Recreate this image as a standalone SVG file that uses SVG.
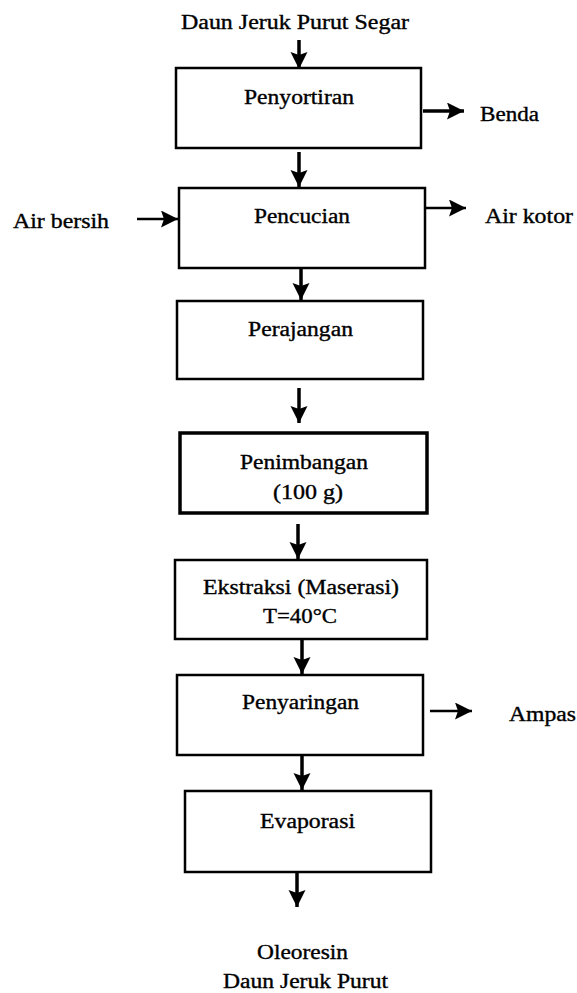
<svg xmlns="http://www.w3.org/2000/svg" width="577" height="993" viewBox="0 0 577 993">
<style>
  .box { fill: #fff; stroke: #000; stroke-width: 2.5; }
  .thick { stroke-width: 3.5; }
  .t { font-family: "Liberation Serif", "Times New Roman", serif; font-size: 20px; fill: #000; stroke: #000; stroke-width: 0.35; }
  .c { stroke: #000; stroke-width: 3.5; fill: none; marker-end: url(#ah); }
  .thin { stroke-width: 2.5; }
</style>
<defs>
  <marker id="ah" markerUnits="userSpaceOnUse" markerWidth="18" markerHeight="18" refX="17" refY="8.5" orient="auto">
    <path d="M0,0 L17,8.5 L0,17 L3,8.5 Z" fill="#000"/>
  </marker>
</defs>
<rect width="577" height="993" fill="#fff"/>
<g id="connectors">
  <line class="c" x1="299" y1="40" x2="299" y2="69"/>
  <line class="c" x1="299" y1="152" x2="299" y2="187"/>
  <line class="c" x1="301" y1="268" x2="301" y2="300"/>
  <line class="c" x1="299" y1="388" x2="299" y2="423"/>
  <line class="c" x1="298" y1="524" x2="298" y2="559"/>
  <line class="c" x1="302" y1="640" x2="302" y2="674"/>
  <line class="c" x1="302" y1="755" x2="302" y2="790"/>
  <line class="c" x1="297" y1="873" x2="297" y2="907"/>
  <line class="c" x1="423" y1="111" x2="464" y2="111"/>
  <line class="c thin" x1="137" y1="219" x2="178" y2="219"/>
  <line class="c thin" x1="426" y1="208" x2="466" y2="208"/>
  <line class="c thin" x1="430" y1="711" x2="472" y2="711"/>
</g>
<g id="input">
  <text class="t" x="181" y="29" textLength="228" lengthAdjust="spacingAndGlyphs">Daun Jeruk Purut Segar</text>
</g>
<g id="penyortiran">
  <rect class="box" x="176" y="68" width="245" height="80"/>
  <text class="t" x="244" y="104" textLength="110" lengthAdjust="spacingAndGlyphs">Penyortiran</text>
</g>
<g id="benda">
  <text class="t" x="480" y="121" textLength="59" lengthAdjust="spacingAndGlyphs">Benda</text>
</g>
<g id="pencucian">
  <rect class="box" x="179" y="188" width="246" height="80"/>
  <text class="t" x="254" y="223" textLength="96" lengthAdjust="spacingAndGlyphs">Pencucian</text>
</g>
<g id="air-bersih">
  <text class="t" x="13" y="228" textLength="96" lengthAdjust="spacingAndGlyphs">Air bersih</text>
</g>
<g id="air-kotor">
  <text class="t" x="485" y="223" textLength="88" lengthAdjust="spacingAndGlyphs">Air kotor</text>
</g>
<g id="perajangan">
  <rect class="box" x="177" y="301" width="246" height="78"/>
  <text class="t" x="248" y="336" textLength="105" lengthAdjust="spacingAndGlyphs">Perajangan</text>
</g>
<g id="penimbangan">
  <rect class="box thick" x="180" y="433" width="247" height="80"/>
  <text class="t" x="240" y="469" textLength="128" lengthAdjust="spacingAndGlyphs">Penimbangan</text>
  <text class="t" x="273" y="499" textLength="70" lengthAdjust="spacingAndGlyphs">(100 g)</text>
</g>
<g id="ekstraksi">
  <rect class="box" x="175" y="560" width="252" height="79"/>
  <text class="t" x="203" y="594" textLength="196" lengthAdjust="spacingAndGlyphs">Ekstraksi (Maserasi)</text>
  <text class="t" x="263" y="623" textLength="74" lengthAdjust="spacingAndGlyphs">T=40°C</text>
</g>
<g id="penyaringan">
  <rect class="box" x="177" y="675" width="246" height="80"/>
  <text class="t" x="242" y="709" textLength="117" lengthAdjust="spacingAndGlyphs">Penyaringan</text>
</g>
<g id="ampas">
  <text class="t" x="509" y="721" textLength="67" lengthAdjust="spacingAndGlyphs">Ampas</text>
</g>
<g id="evaporasi">
  <rect class="box" x="185" y="791" width="246" height="81"/>
  <text class="t" x="260" y="828" textLength="95" lengthAdjust="spacingAndGlyphs">Evaporasi</text>
</g>
<g id="output">
  <text class="t" x="257" y="959" textLength="91" lengthAdjust="spacingAndGlyphs">Oleoresin</text>
  <text class="t" x="223" y="988" textLength="165" lengthAdjust="spacingAndGlyphs">Daun Jeruk Purut</text>
</g>
</svg>
